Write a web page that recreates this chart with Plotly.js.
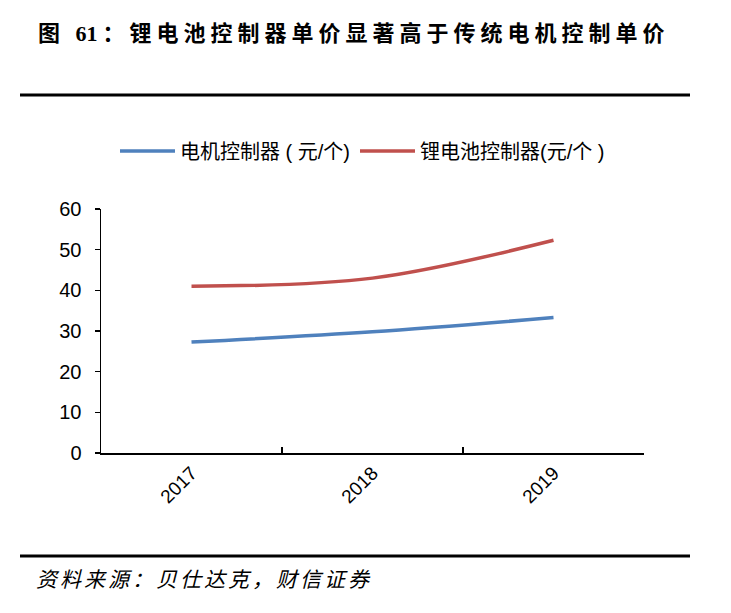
<!DOCTYPE html>
<html>
<head>
<meta charset="utf-8">
<script src="https://cdn.plot.ly/plotly-3.0.1.min.js"></script>
<style>
html,body{margin:0;padding:0;background:#fff;}
#chart{width:731px;height:613px;}
#chart .gtitle{letter-spacing:5px;}
#chart .annotation-text{letter-spacing:3px;}
</style>
</head>
<body>
<div id="chart"></div>
<script>
const years = ['2017', '2018', '2019'];
const motorController = [27.3, 29.8, 33.3];
const lithiumController = [41.0, 43.0, 52.3];
const seriesNames = ['电机控制器 ( 元/个)', '锂电池控制器(元/个 )'];
const titleText = '图 <span style="letter-spacing:0px">6</span>1：锂电池控制器单价显著高于传统电机控制单价';
const sourceText = '资料来源：贝仕达克，财信证券';

const W = 731, H = 613;
const L = 101, R = 87, T = 209, B = 160;
const pw = W - L - R, ph = H - T - B;
const px2x = p => (p - L) / pw;
const py2y = p => (H - B - p) / ph;

const traces = [
  {x: years, y: motorController, name: seriesNames[0], type: 'scatter', mode: 'lines',
   line: {color: '#4F81BD', width: 3.5, shape: 'spline', smoothing: 1}},
  {x: years, y: lithiumController, name: seriesNames[1], type: 'scatter', mode: 'lines',
   line: {color: '#C0504D', width: 3.5, shape: 'spline', smoothing: 1}}
];

const layout = {
  width: W, height: H,
  margin: {l: L, r: R, t: T, b: B, pad: 0},
  paper_bgcolor: '#fff', plot_bgcolor: '#fff',
  showlegend: true,
  title: {
    text: titleText,
    font: {family: 'Liberation Serif, Noto Sans CJK SC', size: 22, color: '#000', weight: 'bold'},
    x: 38 / W, xanchor: 'left', xref: 'container',
    y: 1 - 33 / H, yanchor: 'middle', yref: 'container'
  },
  legend: {
    orientation: 'h',
    xref: 'container', yref: 'container',
    x: 115 / W, xanchor: 'left',
    y: 1 - 151 / H, yanchor: 'middle',
    font: {family: 'Liberation Sans, Noto Sans CJK SC', size: 20, color: '#000'},
    itemwidth: 55,
    bgcolor: 'rgba(0,0,0,0)'
  },
  xaxis: {
    type: 'category',
    range: [-0.5, 2.5],
    showline: true, linecolor: '#000', linewidth: 1.5,
    ticks: 'inside', ticklen: 6, tickwidth: 1.5, tickcolor: '#000',
    tickson: 'boundaries',
    tickangle: -45,
    tickfont: {family: 'Liberation Sans, Arial', size: 19, color: '#000'},
    showgrid: false, zeroline: false,
    fixedrange: true
  },
  yaxis: {
    range: [0, 60], dtick: 10, tick0: 0,
    showline: true, linecolor: '#000', linewidth: 1.5,
    ticks: 'outside', ticklen: 5, tickwidth: 1.5, tickcolor: '#000',
    tickfont: {family: 'Liberation Sans, Arial', size: 20, color: '#000'},
    ticklabelstandoff: 9,
    showgrid: false, zeroline: false,
    fixedrange: true
  },
  shapes: [
    {type: 'line', xref: 'paper', yref: 'paper', x0: px2x(20), x1: px2x(690), y0: py2y(95), y1: py2y(95),
     line: {color: '#000', width: 3}},
    {type: 'line', xref: 'paper', yref: 'paper', x0: px2x(20), x1: px2x(690), y0: py2y(556), y1: py2y(556),
     line: {color: '#000', width: 3}}
  ],
  annotations: [
    {text: sourceText, xref: 'paper', yref: 'paper', x: px2x(55), y: py2y(578),
     xanchor: 'left', yanchor: 'middle', showarrow: false,
     font: {family: 'Noto Sans CJK SC', size: 21, color: '#000', style: 'italic'}}
  ]
};

Plotly.newPlot('chart', traces, layout, {displayModeBar: false, staticPlot: true});
</script>
</body>
</html>
